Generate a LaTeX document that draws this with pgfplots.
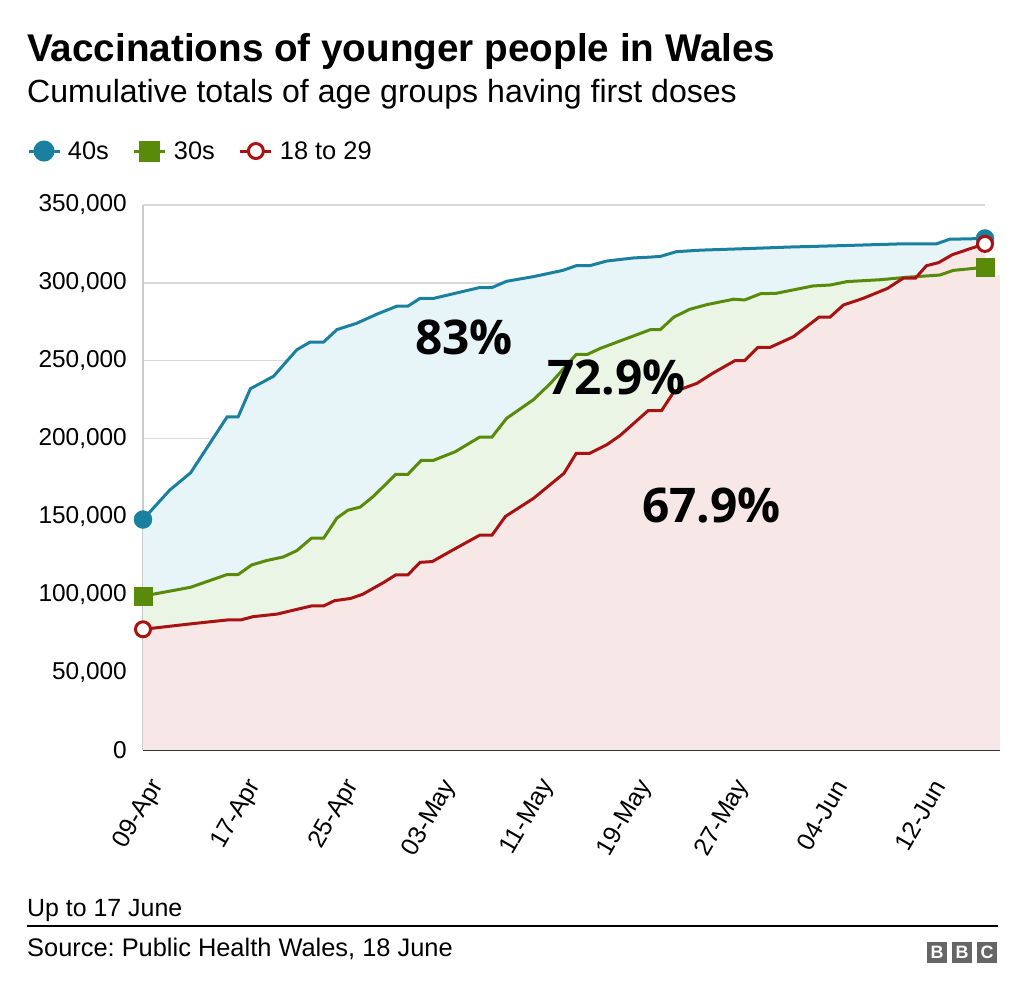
\documentclass[border=0pt]{standalone}
\usepackage{fontspec}
\setmainfont{Liberation Sans}
\newfontfamily\pctfont{Open Sans}
\usepackage{pgfplots}
\usepackage{pgfplotstable}
\pgfplotsset{compat=1.18}
\definecolor{c40}{RGB}{26,128,160}
\definecolor{c30}{RGB}{90,138,10}
\definecolor{c18}{RGB}{168,18,18}
\definecolor{f40}{RGB}{232,245,248}
\definecolor{f30}{RGB}{234,245,230}
\definecolor{f18}{RGB}{247,231,230}
\definecolor{gridc}{RGB}{217,217,217}
\definecolor{bbcgray}{RGB}{102,102,102}

% x = days since 09-Apr, v = thousands of people
\pgfplotstableread{
d v
0 148
2.2 167
3.9 178
6.9 214
7.8 214
8.8 232
10.7 240
12.6 257
13.7 262
14.8 262
15.9 270
17.5 274
19.2 280
20.8 285
21.7 285
22.7 290
23.8 290
25.7 293.5
27.6 297
28.6 297
29.8 301
32 304
34.4 308
35.5 311
36.6 311
38 314
40.2 316
41.5 316.5
42.4 317
43.7 320
45.7 321
49.5 322
53 323
57.7 324
62 325
65 325
66.1 328
69 328.5
}\fortys

\pgfplotstableread{
d v
0 99
0.8 100
3.9 104.5
6.9 112.7
7.8 112.7
8.9 118.8
10.1 121.6
11.5 124
12.6 128
13.8 136
14.8 136
15.9 149
16.8 154
17.8 156
18.9 163
20.7 177
21.7 177
22.8 186
23.8 186
25.6 191.6
27.6 201
28.6 201
29.8 213
32 225
33.4 235.5
35.5 254
36.4 254
37.5 258
41.6 270
42.4 270
43.5 278
44.8 283
46.2 286
48.4 289.5
49.3 289
50.6 293
51.9 293.3
54.9 298
56.3 298.6
57.7 300.8
60.4 302
62.6 303.6
65.3 305
66.4 308
69 310
}\thirtys

\pgfplotstableread{
d v
0 77.5
3.9 81
6.9 83.5
8 83.5
9 85.6
11 87.3
12.6 90.3
13.8 92.5
14.8 92.5
15.7 95.9
17 97.3
18 100
19.7 107.5
20.7 112.4
21.7 112.4
22.7 120.5
23.7 121
25.4 128.5
27.6 138
28.6 138
29.7 150
32 161.6
34.5 177.7
35.5 190.5
36.6 190.5
38 196
39.1 202
41.4 218
42.5 218
43.5 230
45.4 235.5
46.7 242
48.5 250
49.3 250
50.4 258.6
51.4 258.6
53.3 265.4
55.4 278
56.3 278
57.4 285.8
59 290
61 296.4
62.3 303
63.3 303
64.2 311
65.2 313
66.3 318
67.8 322
69 325
}\young

\pgfplotstableread{
d v
0 148
69 328.5
}\fortyends
\pgfplotstableread{
d v
0 99
69 310
}\thirtyends
\pgfplotstableread{
d v
0 77.5
69 325
}\youngends

\begin{document}
\frenchspacing
\begin{tikzpicture}[x=1bp,y=1bp]
\path[use as bounding box] (0,0) rectangle (1024,996);

\node[anchor=base west, inner sep=0pt, font=\bfseries\fontsize{38.8}{40}\selectfont] at (27,934) {Vaccinations of younger people in Wales};
\node[anchor=base west, inner sep=0pt, font=\fontsize{32.2}{34}\selectfont] at (27,893) {Cumulative totals of age groups having first doses};

\node[anchor=base west, inner sep=0pt, font=\fontsize{25}{26}\selectfont] at (27,79) {Up to 17 June};
\draw[black, line width=1.5bp] (27,70) -- (998,70);
\node[anchor=base west, inner sep=0pt, font=\fontsize{25.5}{26}\selectfont] at (27,39) {Source: Public Health Wales, 18 June};
\foreach \bx/\bl in {927/B,952/B,977/C}{
  \fill[bbcgray] (\bx,33) rectangle ++(20,21);
  \node[white, font=\bfseries\fontsize{18}{18}\selectfont, inner sep=0pt] at (\bx+10,43.5) {\bl};
}

\begin{axis}[
  at={(143bp,246bp)}, anchor=south west,
  scale only axis, width=842bp, height=545bp,
  xmin=0, xmax=69, ymin=0, ymax=350,
  axis x line*=bottom, axis y line*=left,
  x axis line style={draw=black!80, line width=3bp, shorten >=-15bp},
  y axis line style={draw=black!20, line width=1.5bp},
  major tick length=0pt,
  ymajorgrids, grid style={gridc, line width=1.5bp},
  ytick={0,50,100,150,200,250,300,350},
  yticklabels={0,{50,000},{100,000},{150,000},{200,000},{250,000},{300,000},{350,000}},
  xtick={0,8,16,24,32,40,48,56,64},
  xticklabels={09-Apr,17-Apr,25-Apr,03-May,11-May,19-May,27-May,04-Jun,12-Jun},
  yticklabel style={font=\fontsize{24.5}{26}\selectfont, anchor=east, inner sep=0pt, xshift=-16bp},
  xticklabel style={font=\fontsize{25}{26}\selectfont, inner sep=0pt, xshift=15bp, yshift=-32bp, rotate=60, anchor=east},
  legend columns=3,
  legend style={at={(-0.138,1.099)}, anchor=west, draw=none, fill=none, inner sep=0pt,
    font=\fontsize{25.5}{26}\selectfont,
    /tikz/every even column/.append style={column sep=22bp},
    /tikz/every odd column/.append style={column sep=5bp}},
  legend image code/.code={\draw[mark repeat=2,mark phase=2] plot coordinates {(0bp,0bp) (15.5bp,0bp) (31bp,0bp)};},
  clip=false,
]
\addplot[draw=none, fill=f40, forget plot] table[x=d,y=v]{\fortys} \closedcycle;
\addplot[draw=none, fill=f30, forget plot] table[x=d,y=v]{\thirtys} \closedcycle;
\addplot[draw=none, fill=f18, forget plot] table[x=d,y=v]{\young} \closedcycle;
\addplot[draw=none, fill=f18, forget plot] coordinates {(68.9,305) (70.2,305) (70.2,0) (68.9,0)} -- cycle;

\addplot[c40, line width=3bp, no marks, forget plot] table[x=d,y=v]{\fortys};
\addplot[c30, line width=3bp, no marks, forget plot] table[x=d,y=v]{\thirtys};
\addplot[c18, line width=3bp, no marks, forget plot] table[x=d,y=v]{\young};

\addplot[only marks, mark=*, mark size=9bp, c40, forget plot] table[x=d,y=v]{\fortyends};
\addplot[only marks, mark=square*, mark size=9bp, c30, forget plot] table[x=d,y=v]{\thirtyends};
\addplot[only marks, mark=*, mark size=7.5bp, c18, line width=3bp, mark options={fill=white}, forget plot] table[x=d,y=v]{\youngends};

\addlegendimage{c40, line width=3bp, mark=*, mark size=9bp}
\addlegendentry{40s}
\addlegendimage{c30, line width=3bp, mark=square*, mark size=9bp}
\addlegendentry{30s}
\addlegendimage{c18, line width=3bp, mark=*, mark size=7.5bp, mark options={fill=white}}
\addlegendentry{18 to 29}

\node[font=\pctfont\bfseries\fontsize{48}{48}\selectfont, inner sep=0pt] at (axis cs:26.3,265) {83\%};
\node[font=\pctfont\bfseries\fontsize{48}{48}\selectfont, inner sep=0pt] at (axis cs:38.8,239) {72.9\%};
\node[font=\pctfont\bfseries\fontsize{48}{48}\selectfont, inner sep=0pt] at (axis cs:46.6,157) {67.9\%};
\end{axis}
\end{tikzpicture}
\end{document}
